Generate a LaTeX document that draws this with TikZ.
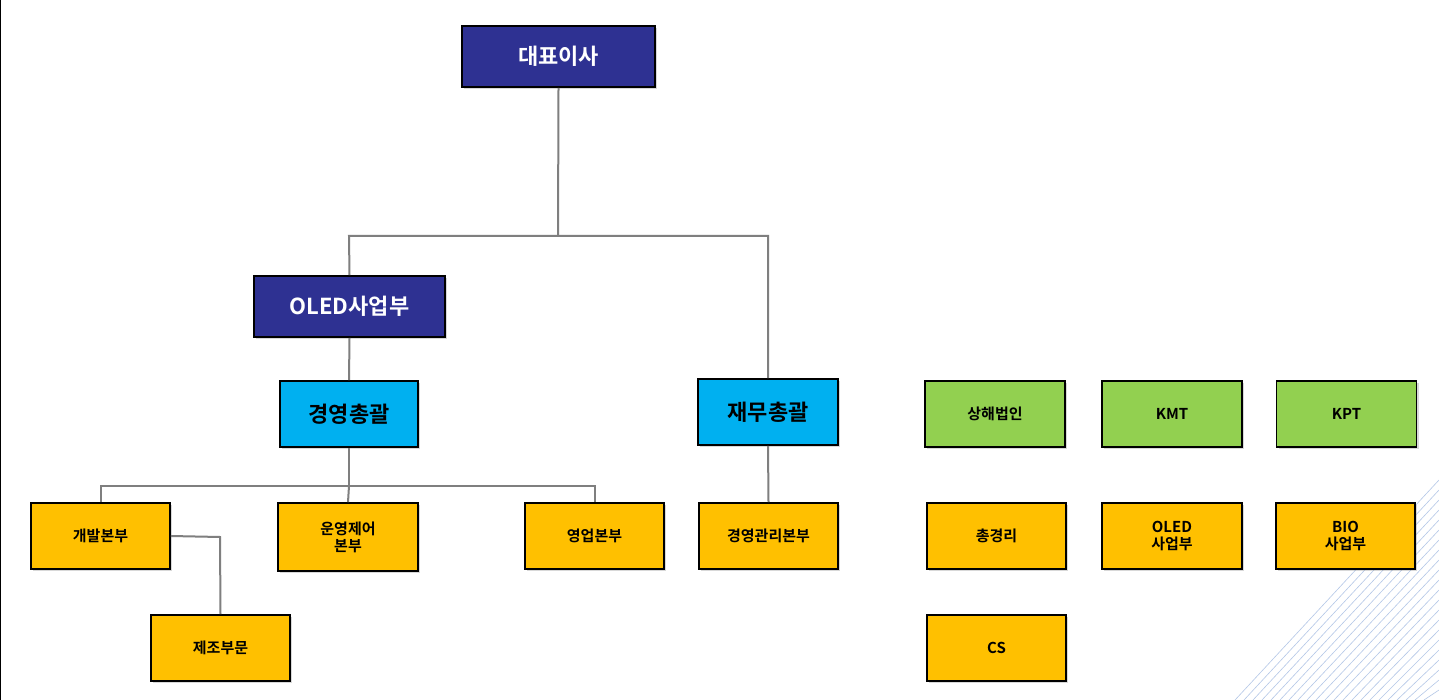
\documentclass[tikz,border=0pt]{standalone}
\usepackage{fontspec}
\setmainfont{Noto Sans CJK KR}[BoldFont={* Bold}]
\usetikzlibrary{shadows}
\definecolor{navy}{HTML}{2E3192}
\definecolor{cyanb}{HTML}{00B0F0}
\definecolor{greenb}{HTML}{92D050}
\definecolor{yellowb}{HTML}{FFC000}
\definecolor{conn}{HTML}{7F7F7F}
\definecolor{fan}{HTML}{B4C7E7}
\begin{document}
\begin{tikzpicture}[x=1pt,y=-1pt,
  box/.style={draw=black,line width=1.6pt,drop shadow={shadow xshift=2pt,shadow yshift=-2pt,opacity=0.3},inner sep=0pt,align=center,font=\bfseries},
  bigbox/.style={box,text=white,font=\bfseries\fontsize{22}{24}\selectfont},
  smallbox/.style={box,text=black,font=\bfseries\fontsize{15}{17}\selectfont},
  cn/.style={draw=conn,line width=2pt}]
\useasboundingbox (0,0) rectangle (1439,700);
\fill[white] (0,0) rectangle (1439,700);
\draw[black,line width=1pt] (0.5,0) -- (0.5,700);
\foreach \k in {0,...,22}{
  \draw[fan,line width=0.6pt] (1235+\k*9,700) -- (1439,480+\k*10);
}
\newcommand{\bx}[6]{\node[#1,fill=#2,minimum width=#5-#3,minimum height=#6-#4] (#1n) at ({(#3+#5)/2},{(#4+#6)/2}) {};}
\node[bigbox,fill=navy,minimum width=193,minimum height=61] (ceo) at (558.5,56.5) {대표이사};
\node[bigbox,fill=navy,minimum width=191,minimum height=61] (oled) at (349.5,306.5) {OLED사업부};
\node[bigbox,fill=cyanb,text=black,minimum width=138,minimum height=66] (gy) at (349,414) {경영총괄};
\node[bigbox,fill=cyanb,text=black,minimum width=140,minimum height=66] (jm) at (768,412) {재무총괄};
\foreach \n/\x/\t in {sh/995/상해법인,kmt/1172/KMT,kpt/1346.5/KPT}{
  \node[smallbox,fill=greenb,minimum width=140,minimum height=66] (\n) at (\x,414) {\t};}
\node[smallbox,fill=yellowb,minimum width=139,minimum height=66] (gb) at (100.5,536) {개발본부};
\node[smallbox,fill=yellowb,minimum width=140,minimum height=68] (un) at (348,537) {운영제어\\본부};
\node[smallbox,fill=yellowb,minimum width=139,minimum height=66] (yb) at (594.5,536) {영업본부};
\node[smallbox,fill=yellowb,minimum width=139,minimum height=66] (gg) at (768.5,536) {경영관리본부};
\node[smallbox,fill=yellowb,minimum width=139,minimum height=66] (cg) at (996.5,536) {총경리};
\node[smallbox,fill=yellowb,minimum width=140,minimum height=66] (ob) at (1172,536) {OLED\\사업부};
\node[smallbox,fill=yellowb,minimum width=139,minimum height=66] (bio) at (1345.5,536) {BIO\\사업부};
\node[smallbox,fill=yellowb,minimum width=139,minimum height=66] (jj) at (220.5,648) {제조부문};
\node[smallbox,fill=yellowb,minimum width=139,minimum height=66] (cs) at (996.5,648) {CS};
\coordinate (j1) at (558,236);
\draw[cn] (ceo.south) -- (j1);
\draw[cn] (oled.north) -- (349,236) -- (768,236) -- (jm.north);
\draw[cn] (oled.south) -- (gy.north);
\draw[cn] (gy.south) -- (349,486);
\draw[cn] (gb.north -| 101,0) -- (101,486) -- (595,486) -- (yb.north -| 595,0);
\draw[cn] (349,486) -- (un.north);
\draw[cn] (jm.south) -- (gg.north);
\draw[cn] (gb.east) -- (220,537) -- (jj.north);
\end{tikzpicture}
\end{document}
